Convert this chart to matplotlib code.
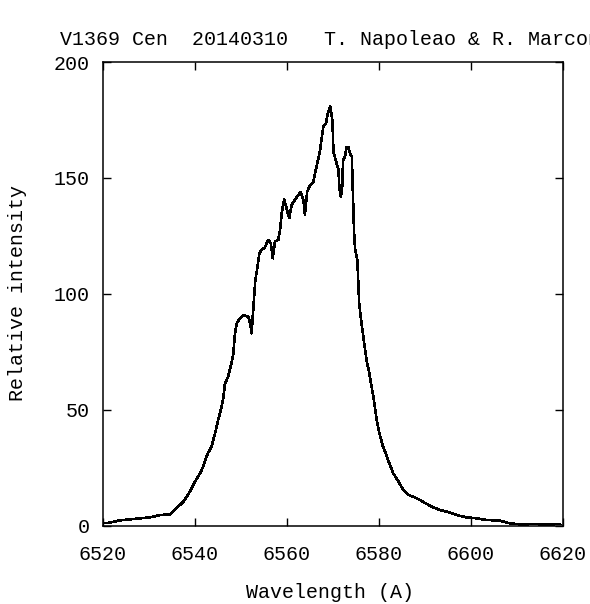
import matplotlib
matplotlib.use("Agg")
import matplotlib.pyplot as plt

wavelength = [
    6520.2, 6520.9, 6523.8, 6526.7, 6530.3, 6532.5, 6534.7, 6536.1, 6537.6, 6539.0,
    6540.1, 6541.2, 6541.9, 6542.65, 6543.0, 6543.7, 6544.5, 6545.2, 6545.9, 6546.3,
    6546.6, 6547.3, 6548.1, 6548.4, 6548.8, 6549.2, 6549.9, 6550.6, 6551.7, 6552.1,
    6552.4, 6552.8, 6553.2, 6553.7, 6554.1, 6554.6, 6555.3, 6556.0, 6556.6, 6557.0,
    6557.5, 6558.2, 6558.6, 6559.0, 6559.5, 6560.0, 6560.6, 6561.1, 6561.8, 6562.6,
    6563.1, 6563.7, 6564.0, 6564.5, 6565.1, 6565.8, 6566.2, 6566.7, 6567.3, 6567.6,
    6568.0, 6568.6, 6568.9, 6569.5, 6569.8, 6570.0, 6570.2, 6570.8, 6571.3, 6571.5,
    6571.8, 6572.1, 6572.3, 6572.7, 6573.1, 6573.4, 6573.8, 6574.2, 6574.4, 6574.7,
    6574.9, 6575.4, 6575.8, 6576.3, 6576.8, 6577.4, 6578.0, 6578.5, 6579.0, 6579.6,
    6580.2, 6580.9, 6581.4, 6581.8, 6582.5, 6583.2, 6584.2, 6585.4, 6586.5, 6587.6,
    6589.0, 6590.5, 6591.9, 6593.4, 6594.8, 6597.0, 6599.2, 6601.3, 6603.5, 6606.4,
    6608.6, 6610.8, 6613.7, 6616.6, 6619.5,
]
intensity = [
    1.0, 1.0, 2.2, 2.8, 3.5, 4.5, 4.8, 7.5, 10.3, 14.6,
    18.9, 22.5, 25.4, 30.0, 31.5, 34.0, 40.0, 46.0, 51.3, 55.6,
    61.0, 64.2, 70.7, 73.6, 82.9, 87.3, 89.4, 90.8, 90.1, 87.3,
    82.9, 94.0, 105.5, 111.7, 117.5, 118.9, 120.0, 123.2, 121.8, 115.3,
    122.5, 123.2, 127.5, 135.4, 140.8, 136.9, 132.6, 138.3, 140.5, 142.6,
    144.0, 140.0, 134.0, 144.0, 146.9, 148.0, 152.0, 156.3, 162.0, 166.3,
    172.1, 173.5, 177.1, 181.0, 177.1, 174.2, 161.3, 157.0, 153.4, 145.5,
    141.9, 145.5, 157.7, 159.1, 163.4, 163.4, 160.6, 159.1, 145.5, 126.0,
    119.6, 114.6, 95.9, 87.3, 80.0, 71.4, 65.7, 59.9, 54.2, 45.5,
    39.8, 34.5, 32.0, 29.7, 26.1, 22.5, 19.5, 15.3, 13.2, 12.4,
    11.0, 9.3, 7.8, 6.7, 6.0, 4.5, 3.5, 3.1, 2.4, 2.1,
    0.9, 0.5, 0.6, 0.5, 0.6,
]
x_ticks = [6520, 6540, 6560, 6580, 6600, 6620]
y_ticks = [0, 50, 100, 150, 200]
title = "V1369 Cen  20140310   T. Napoleao & R. Marcon"
x_label = "Wavelength (A)"
y_label = "Relative intensity"

FONT = "Liberation Mono"
FS = 14.4

W, H = 590, 604
fig = plt.figure(figsize=(W / 100, H / 100), dpi=100)
L, R, B, T = 102.5, 562.5, 525.5, 62.0
ax = fig.add_axes([L / W, (H - B) / H, (R - L) / W, (B - T) / H])

ax.plot(wavelength, intensity, color="black", lw=1.15, antialiased=False)
ax.set_xlim(6520, 6620)
ax.set_ylim(0, 200)
ax.set_xticks(x_ticks)
ax.set_yticks(y_ticks)
ax.tick_params(direction="in", length=5.5, width=1.0, top=True, right=True,
               labelsize=FS, colors="black")
ax.tick_params(axis="x", pad=14)
ax.tick_params(axis="y", pad=9)
for lab in ax.get_xticklabels() + ax.get_yticklabels():
    lab.set_family(FONT)
for s in ax.spines.values():
    s.set_linewidth(1.1)
    s.set_color("black")

fig.text(60 / W, (H - 45) / H, title, ha="left", va="baseline",
         family=FONT, fontsize=FS, color="black")
fig.text(330 / W, (H - 592) / H, x_label, ha="center", va="center",
         family=FONT, fontsize=FS, color="black")
fig.text(18 / W, (H - 293) / H, y_label, ha="center", va="center",
         rotation=90, family=FONT, fontsize=FS, color="black")

fig.savefig("out.png", dpi=100)
